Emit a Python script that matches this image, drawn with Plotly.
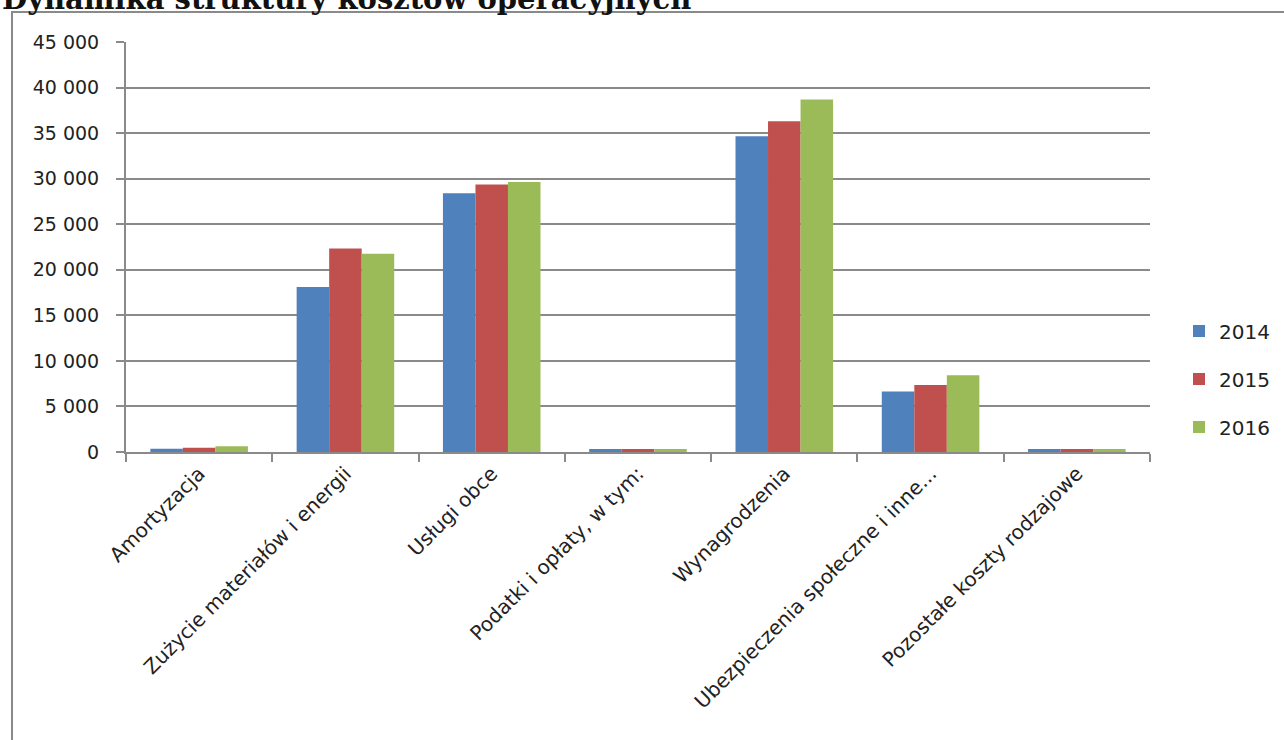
import plotly.graph_objects as go

categories = [
    "Amortyzacja",
    "Zużycie materiałów i energii",
    "Usługi obce",
    "Podatki i opłaty, w tym:",
    "Wynagrodzenia",
    "Ubezpieczenia społeczne i inne...",
    "Pozostałe koszty rodzajowe",
]
years = ["2014", "2015", "2016"]
v2014 = [350, 18100, 28400, 330, 34650, 6630, 330]
v2015 = [470, 22330, 29360, 330, 36300, 7350, 330]
v2016 = [640, 21750, 29640, 330, 38700, 8430, 330]
yticks = [0, 5000, 10000, 15000, 20000, 25000, 30000, 35000, 40000, 45000]
title_text = "Dynamika struktury kosztów operacyjnych"

colors = ["#4F81BD", "#C0504D", "#9BBB59"]
series = [v2014, v2015, v2016]

W, H = 1284, 740
L, R, T, B = 126, 134, 42, 288
pw, ph = W - L - R, H - T - B


def px2x(px):
    return (px - L) / pw


def px2y(py):
    return (H - B - py) / ph


fig = go.Figure()
for name, vals, col in zip(years, series, colors):
    fig.add_trace(go.Bar(
        x=categories, y=vals, name=name, marker_color=col,
        marker_line_width=0, legendgroup=name,
    ))

grid = "#8A8A8A"
font_main = "DejaVu Sans"

fig.update_layout(
    width=W, height=H,
    margin=dict(l=L, r=R, t=T, b=B, autoexpand=False),
    paper_bgcolor="white", plot_bgcolor="white",
    barmode="group", bargap=0.333, bargroupgap=0,
    separators=", ",
    font=dict(family=font_main, size=18, color="#222222"),
    showlegend=True,
    legend=dict(
        x=px2x(1179), xanchor="left", y=px2y(379), yanchor="middle",
        font=dict(family=font_main, size=20, color="#222222"),
        traceorder="grouped", tracegroupgap=19,
        bgcolor="rgba(0,0,0,0)", itemwidth=30,
    ),
    xaxis=dict(
        type="category", showline=True, linecolor=grid, linewidth=2,
        ticks="outside", tickson="boundaries", ticklen=8, tickwidth=2,
        tickcolor=grid, tickangle=-45, showgrid=False,
        tickfont=dict(family=font_main, size=20, color="#222222"),
    ),
    yaxis=dict(
        range=[0, 45000], tickvals=yticks, tickformat=",d",
        showline=True, linecolor=grid, linewidth=2,
        ticks="outside", ticklen=8, tickwidth=2, tickcolor=grid,
        showgrid=True, gridcolor=grid, gridwidth=2, zeroline=False,
        ticklabelstandoff=13,
        tickfont=dict(family=font_main, size=19, color="#222222"),
    ),
    shapes=[dict(
        type="rect", xref="paper", yref="paper",
        x0=px2x(12), x1=px2x(1300), y0=px2y(760), y1=px2y(12),
        line=dict(color="#8A8A8A", width=2), fillcolor="rgba(0,0,0,0)",
        layer="below",
    )],
    annotations=[dict(
        text="<b>" + title_text + "</b>", xref="paper", yref="paper",
        x=px2x(0), y=px2y(-1), xanchor="left", yanchor="middle",
        showarrow=False,
        font=dict(family="DejaVu Serif", size=29, color="#111111"),
    )],
)

fig.write_html("out.html")
